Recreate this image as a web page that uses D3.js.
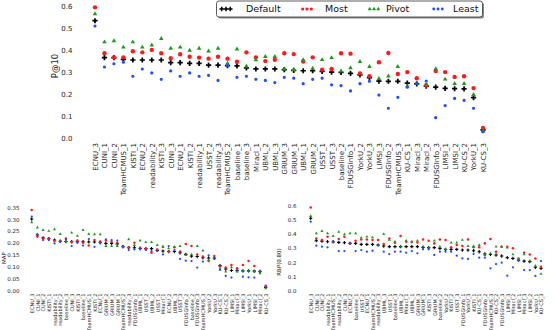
<!DOCTYPE html>
<html>
<head>
<meta charset="utf-8">
<script src="https://cdn.jsdelivr.net/npm/d3@7"></script>
<style>
  body { margin: 0; background: #fff; }
  svg { display: block; font-family: "DejaVu Sans", sans-serif; }
</style>
</head>
<body>
<svg id="chart" width="555" height="330"></svg>
<script>
// ---- data ----
const seriesNames = ["Default", "Most", "Pivot", "Least"];

const topRuns = ["ECNU_3","CUNI_1","CUNI_2","TeamHCMUS_1","KISTI_1","ECNU_2","readability_2","KISTI_3","CUNI_3","ECNU_1","KISTI_2","readability_1","USST_2","readability_3","TeamHCMUS_2","baseline_1","baseline_3","Miracl_1","UBML_2","UBML_3","GRIUM_3","GRIUM_1","UBML_1","GRIUM_2","USST_1","USST_3","baseline_2","FDUSGInfo_1","YorkU_2","YorkU_3","LIMSI_3","FDUSGInfo_2","TeamHCMUS_3","KU-CS_1","Miracl_3","Miracl_2","FDUSGInfo_3","LIMSI_1","LIMSI_2","KU-CS_2","YorkU_1","KU-CS_3"];
const p10Default = [0.536,0.368,0.368,0.360,0.357,0.357,0.357,0.357,0.345,0.345,0.342,0.342,0.334,0.334,0.331,0.330,0.321,0.316,0.316,0.316,0.313,0.310,0.308,0.308,0.305,0.302,0.301,0.296,0.289,0.277,0.261,0.260,0.260,0.252,0.248,0.238,0.233,0.228,0.226,0.225,0.185,0.038];
const p10Most = [0.597,0.388,0.369,0.369,0.397,0.392,0.403,0.388,0.365,0.383,0.372,0.368,0.363,0.372,0.363,0.349,0.392,0.369,0.352,0.358,0.388,0.384,0.350,0.369,0.313,0.316,0.388,0.386,0.296,0.283,0.347,0.389,0.293,0.302,0.274,0.242,0.307,0.302,0.280,0.283,0.229,0.047];
const p10Pivot = [0.567,0.439,0.444,0.415,0.439,0.415,0.425,0.454,0.410,0.415,0.401,0.410,0.397,0.410,0.342,0.406,0.328,0.357,0.372,0.372,0.315,0.313,0.357,0.319,0.358,0.367,0.306,0.321,0.349,0.327,0.272,0.283,0.327,0.238,0.250,0.244,0.316,0.269,0.249,0.249,0.199,0.033];
const p10Least = [0.512,0.325,0.340,0.347,0.283,0.316,0.298,0.269,0.307,0.283,0.298,0.283,0.287,0.264,0.331,0.278,0.283,0.269,0.264,0.254,0.278,0.274,0.249,0.269,0.274,0.244,0.240,0.216,0.249,0.260,0.197,0.137,0.187,0.233,0.252,0.261,0.094,0.149,0.182,0.173,0.137,0.030];
const p10Ticks = [0, 0.1, 0.2, 0.3, 0.4, 0.5, 0.6];

const mapRuns = ["ECNU_3","CUNI_1","CUNI_2","KISTI_1","readability_1","readability_2","baseline_3","CUNI_3","KISTI_3","baseline_1","TeamHCMUS_1","KISTI_2","ECNU_1","GRIUM_2","GRIUM_3","GRIUM_1","TeamHCMUS_2","readability_3","FDUSGInfo_1","UBML_1","USST_2","UBML_2","USST_1","Miracl_1","ECNU_2","UBML_3","USST_3","FDUSGInfo_2","baseline_2","FDUSGInfo_3","TeamHCMUS_3","YorkU_2","YorkU_3","KU-CS_1","KU-CS_2","LIMSI_1","Miracl_3","LIMSI_3","YorkU_1","LIMSI_2","Miracl_2","KU-CS_3"];
const mapDefault = [0.301,0.234,0.222,0.219,0.213,0.208,0.207,0.206,0.206,0.206,0.205,0.205,0.204,0.199,0.199,0.197,0.185,0.181,0.181,0.178,0.177,0.177,0.170,0.167,0.165,0.165,0.160,0.153,0.146,0.144,0.139,0.138,0.137,0.106,0.092,0.086,0.085,0.084,0.084,0.083,0.081,0.015];
const mapMost = [0.339,0.227,0.220,0.219,0.209,0.209,0.220,0.206,0.211,0.202,0.190,0.213,0.206,0.211,0.206,0.202,0.188,0.183,0.202,0.181,0.178,0.160,0.174,0.185,0.165,0.183,0.165,0.197,0.188,0.153,0.144,0.125,0.146,0.102,0.098,0.109,0.095,0.109,0.125,0.105,0.084,0.022];
const mapPivot = [0.287,0.265,0.255,0.251,0.258,0.238,0.206,0.244,0.230,0.255,0.238,0.237,0.237,0.188,0.188,0.188,0.185,0.216,0.192,0.211,0.204,0.204,0.192,0.185,0.178,0.185,0.188,0.151,0.153,0.188,0.169,0.130,0.135,0.088,0.081,0.099,0.081,0.084,0.084,0.081,0.074,0.011];
const mapLeast = [0.311,0.237,0.213,0.213,0.199,0.206,0.216,0.188,0.202,0.190,0.217,0.185,0.199,0.216,0.213,0.211,0.188,0.171,0.174,0.174,0.171,0.167,0.167,0.153,0.188,0.171,0.134,0.127,0.125,0.098,0.123,0.149,0.139,0.091,0.063,0.056,0.088,0.060,0.057,0.056,0.084,0.018];
const mapTicks = [0, 0.05, 0.10, 0.15, 0.20, 0.25, 0.30, 0.35];

const rbpRuns = ["ECNU_3","CUNI_1","CUNI_2","readability_1","TeamHCMUS_1","readability_2","CUNI_3","ECNU_2","baseline_1","USST_2","ECNU_1","TeamHCMUS_2","readability_3","UBML_3","USST_1","baseline_3","UBML_2","Miracl_1","UBML_1","GRIUM_3","GRIUM_1","KISTI_3","GRIUM_2","baseline_2","YorkU_2","KISTI_2","USST_3","FDUSGInfo_1","YorkU_3","KISTI_1","KU-CS_1","FDUSGInfo_2","TeamHCMUS_3","KU-CS_2","FDUSGInfo_3","LIMSI_3","Miracl_2","LIMSI_1","Miracl_3","LIMSI_2","YorkU_1","KU-CS_3"];
const rbpDefault = [0.511,0.353,0.350,0.346,0.344,0.341,0.339,0.334,0.334,0.327,0.327,0.327,0.322,0.315,0.311,0.311,0.311,0.311,0.311,0.311,0.306,0.304,0.304,0.299,0.292,0.292,0.292,0.287,0.287,0.282,0.275,0.259,0.256,0.252,0.245,0.233,0.228,0.216,0.209,0.205,0.165,0.158];
const rbpMost = [0.588,0.369,0.358,0.381,0.346,0.365,0.381,0.334,0.353,0.362,0.362,0.358,0.358,0.329,0.369,0.339,0.386,0.346,0.346,0.341,0.362,0.353,0.334,0.362,0.358,0.306,0.322,0.315,0.362,0.306,0.306,0.334,0.365,0.275,0.311,0.311,0.299,0.228,0.268,0.256,0.228,0.169];
const rbpPivot = [0.527,0.405,0.421,0.405,0.386,0.416,0.398,0.405,0.405,0.374,0.381,0.376,0.322,0.400,0.358,0.346,0.311,0.353,0.341,0.353,0.311,0.304,0.353,0.311,0.292,0.339,0.339,0.358,0.315,0.315,0.322,0.252,0.264,0.311,0.311,0.304,0.256,0.221,0.256,0.212,0.176,0.118];
const rbpLeast = [0.487,0.318,0.311,0.306,0.346,0.280,0.280,0.334,0.280,0.287,0.275,0.282,0.322,0.275,0.259,0.275,0.275,0.268,0.280,0.264,0.292,0.292,0.252,0.275,0.275,0.275,0.247,0.228,0.224,0.259,0.233,0.233,0.158,0.188,0.198,0.106,0.165,0.212,0.146,0.146,0.104,0.209];
const rbpTicks = [0, 0.1, 0.2, 0.3, 0.4, 0.5, 0.6];

// ---- styles ----
const colors = ["#000000", "#ff1a1a", "#1a9a1a", "#1f4bff"];
const shapes = [d3.symbolCross, d3.symbolCircle, d3.symbolTriangle, d3.symbolCircle];

const svg = d3.select("#chart");

function drawPanel(opt) {
  const x = d3.scalePoint().domain(opt.runs).range(opt.xRange);
  const y = d3.scaleLinear().domain(opt.yDomain).range(opt.yRange);

  // y axis: labels only
  const ya = svg.append("g")
      .attr("transform", `translate(${opt.yAxisX},0)`)
      .call(d3.axisLeft(y).tickValues(opt.ticks).tickFormat(d3.format(opt.fmt)).tickSize(0).tickPadding(0));
  ya.select(".domain").remove();
  ya.selectAll("text")
      .attr("font-size", opt.tickFont)
      .attr("font-family", "DejaVu Sans")
      .attr("fill", "#222");

  // x axis: rotated run names
  const xa = svg.append("g")
      .attr("transform", `translate(0,${opt.xAxisY})`)
      .call(d3.axisBottom(x).tickSize(0).tickPadding(0));
  xa.select(".domain").remove();
  xa.selectAll("text")
      .attr("font-size", opt.catFont)
      .attr("font-family", "DejaVu Sans")
      .attr("fill", "#222")
      .attr("text-anchor", "end")
      .attr("y", 0)
      .attr("dy", "0.35em")
      .attr("transform", "rotate(-90)");

  // y label
  svg.append("text")
      .attr("transform", `translate(${opt.labelX},${opt.labelY}) rotate(-90)`)
      .attr("text-anchor", "middle")
      .attr("font-size", opt.labelFont)
      .attr("fill", "#222")
      .text(opt.label);

  // points
  opt.series.forEach((vals, s) => {
    const sym = d3.symbol().type(shapes[s]).size(opt.sizes[s]);
    svg.append("g")
      .selectAll("path")
      .data(vals)
      .join("path")
      .attr("d", sym)
      .attr("transform", (d, i) => `translate(${x(opt.runs[i])},${y(d)})`)
      .attr("fill", colors[s]);
  });
}

drawPanel({
  runs: topRuns, series: [p10Default, p10Most, p10Pivot, p10Least],
  xRange: [95, 483], yDomain: [0, 0.6], yRange: [138.3, 6.7],
  ticks: p10Ticks, fmt: ".1f", yAxisX: 72.5, xAxisY: 143,
  tickFont: 7, catFont: 7, label: "P@10", labelX: 58, labelY: 66, labelFont: 8.5,
  sizes: [15, 15, 9, 8]
});

drawPanel({
  runs: mapRuns, series: [mapDefault, mapMost, mapPivot, mapLeast],
  xRange: [31.7, 265.7], yDomain: [0, 0.35], yRange: [291, 207.3],
  ticks: mapTicks, fmt: ".2f", yAxisX: 19.5, xAxisY: 293.5,
  tickFont: 5.5, catFont: 5, label: "MAP", labelX: 6, labelY: 258, labelFont: 5.5,
  sizes: [6, 5, 4, 4]
});

drawPanel({
  runs: rbpRuns, series: [rbpDefault, rbpMost, rbpPivot, rbpLeast],
  xRange: [310.7, 541], yDomain: [0, 0.6], yRange: [290.7, 205.7],
  ticks: rbpTicks, fmt: ".1f", yAxisX: 296.5, xAxisY: 293.5,
  tickFont: 5.5, catFont: 5, label: "RBP(0.80)", labelX: 281, labelY: 262, labelFont: 5.5,
  sizes: [6, 5, 4, 4]
});

// ---- legend ----
const legend = svg.append("g");
legend.append("rect")
    .attr("x", 218).attr("y", 2.5).attr("width", 266).attr("height", 16)
    .attr("rx", 2.5).attr("fill", "#888");
legend.append("rect")
    .attr("x", 216.5).attr("y", 1).attr("width", 266).attr("height", 16)
    .attr("rx", 2.5).attr("fill", "#fff").attr("stroke", "#333").attr("stroke-width", 0.8);

const legendX = [226, 307, 374, 438];
const legendText = [246, 325, 386, 453];
const legendSizes = [11, 8, 7, 6];
seriesNames.forEach((name, s) => {
  const sym = d3.symbol().type(shapes[s]).size(legendSizes[s]);
  legend.append("g").selectAll("path")
    .data([-4.3, 0, 4.3])
    .join("path")
    .attr("d", sym)
    .attr("transform", dx => `translate(${legendX[s] + dx},9)`)
    .attr("fill", colors[s]);
  legend.append("text")
    .attr("x", legendText[s]).attr("y", 12.3)
    .attr("font-size", 9.5)
    .attr("fill", "#111")
    .text(name);
});
</script>
</body>
</html>
